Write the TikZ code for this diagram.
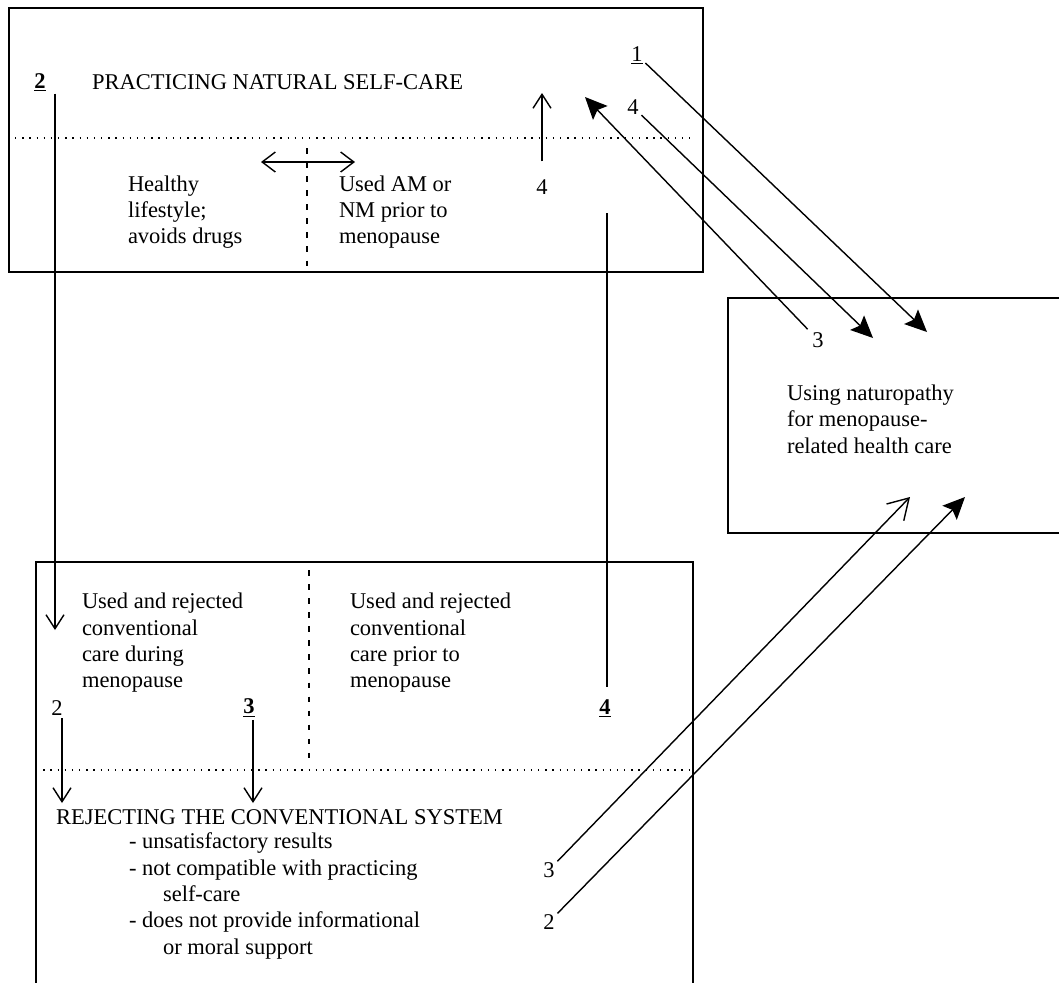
\documentclass[tikz,border=0pt]{standalone}
\usepackage{fontspec}
\setmainfont{Liberation Serif}
\usetikzlibrary{arrows.meta}

\tikzset{
	panel/.style={draw, rectangle, anchor=north west, line width=1.1pt},
	divider/.style={line width=1.2pt, dash pattern=on 1pt off 4.1pt},
	splitline/.style={dash pattern=on 4pt off 6pt},
	numlabel/.style={anchor=center, inner sep=2pt},
	openhead/.style={-{Straight Barb[length=3.5mm,width=4.5mm]}},
	bigopenhead/.style={-{Straight Barb[length=5mm,width=6mm]}},
	solidhead/.style={-{Stealth[length=5.5mm,width=5mm,inset=1mm]}},
	swaparrow/.style={{Straight Barb[length=3.3mm,width=5mm]}-{Straight Barb[length=3.3mm,width=5mm]}}
}

\begin{document}
\begin{tikzpicture}[x=0.025cm, y=-0.025cm, line width=1pt, every node/.style={inner sep=0pt, outer sep=0pt, anchor=west, align=left, font=\fontsize{16}{18.7}\selectfont}]
	\useasboundingbox (0,0) rectangle (1059,982);
	\clip (0,0) rectangle (1059,982);
	
	% Practicing natural self-care
	\node[panel, minimum width=17.35cm, minimum height=6.6cm] (selfcare) at (9,8) {};
	\draw[divider] (15,138) -- (690,138);
	\draw[splitline] (307,148) -- (307,268);
	\node[numlabel] (n2top) at (40,82) {\underline{\textbf{2}}};
	\node (selftitle) at (92,82) {PRACTICING NATURAL SELF-CARE};
	\node (healthy) at (128,212) {Healthy\\lifestyle;\\avoids drugs};
	\node (usedam) at (339,212) {Used AM or\\NM prior to\\menopause};
	\coordinate (swapl) at (261,162);
	\coordinate (swapr) at (355,162);
	\draw[swaparrow] (swapl) -- (swapr);
	\node[numlabel] (n4mid) at (542,187) {4};
	\coordinate (up4) at (542,93);
	\draw[openhead, shorten <=11pt] (n4mid) -- (up4);
	\node[numlabel] (n1) at (637,55) {\underline{1}};
	\node[numlabel] (n4top) at (633,107) {4};
	
	% Using naturopathy
	\node[panel, minimum width=9cm, minimum height=5.875cm] (naturo) at (728,298) {};
	\node (naturotext) at (787,419) {Using naturopathy\\for menopause-\\related health care};
	\node[numlabel] (n3right) at (818,340) {3};
	\coordinate (tip1) at (927,332);
	\coordinate (tip4) at (873,338);
	\coordinate (tip3) at (585,97);
	\draw[solidhead] (n1) -- (tip1);
	\draw[solidhead] (n4top) -- (tip4);
	\draw[solidhead, shorten <=2pt] (n3right) -- (tip3);
	
	% Rejecting the conventional system
	\node[panel, minimum width=16.425cm, minimum height=11cm] (reject) at (36,562) {};
	\draw[divider] (36,770) -- (693,770);
	\draw[splitline] (309,570) -- (309,763);
	\node (during) at (82,643) {Used and rejected\\conventional\\care during\\menopause};
	\node (prior) at (350,643) {Used and rejected\\conventional\\care prior to\\menopause};
	\node[numlabel] (n2low) at (57,708) {2};
	\node[numlabel] (n3low) at (249,708) {\underline{\textbf{3}}};
	\node[numlabel] (n4low) at (605,708) {\underline{\textbf{4}}};
	\node (rejtitle) at (56,817) {REJECTING THE CONVENTIONAL SYSTEM};
	\node (reasons) at (129,896) {- unsatisfactory results\\- not compatible with practicing\\\hspace*{0.85cm}self-care\\- does not provide informational\\\hspace*{0.85cm}or moral support};
	\coordinate (d2top) at (55,630);
	\coordinate (d2) at (62,803);
	\coordinate (d3) at (253,803);
	\coordinate (top4) at (607,213);
	\draw[openhead] (n2top.south -| d2top) -- (d2top);
	\draw[openhead] (n2low.south -| d2) -- (d2);
	\draw[openhead] (n3low.south -| d3) -- (d3);
	\draw[shorten <=7pt] (n4low.north -| top4) -- (top4);
	
	% back to naturopathy
	\node[numlabel] (n3out) at (549,870) {3};
	\node[numlabel] (n2out) at (549,922) {2};
	\coordinate (tip3b) at (910,497);
	\coordinate (tip2b) at (965,497);
	\draw[bigopenhead] (n3out) -- (tip3b);
	\draw[solidhead] (n2out) -- (tip2b);
\end{tikzpicture}
\end{document}
